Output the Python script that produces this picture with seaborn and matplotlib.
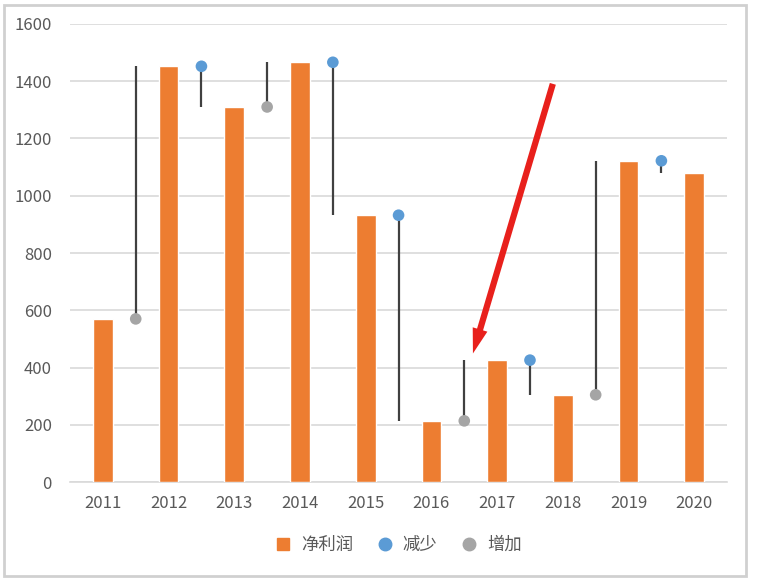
import numpy as np
import pandas as pd
import matplotlib.pyplot as plt
import seaborn as sns
from matplotlib.patches import Rectangle
from matplotlib.lines import Line2D

sns.set_style("white")
plt.rcParams['font.family'] = ['Noto Sans CJK SC', 'DejaVu Sans']

years = ["2011", "2012", "2013", "2014", "2015", "2016", "2017", "2018", "2019", "2020"]
profit = [570, 1452, 1310, 1466, 932, 214, 426, 305, 1122, 1080]

orange = "#ED7D31"
blue = "#5B9BD5"
grey = "#A5A5A5"

df = pd.DataFrame({"year": years, "profit": profit})

fig = plt.figure(figsize=(7.57, 5.83), dpi=100)
ax = fig.add_axes([0.0925, 0.173, 0.868, 0.786])

sns.barplot(data=df, x="year", y="profit", color=orange, width=0.3,
            saturation=1, ax=ax, zorder=3)

# 变化连线：从上一年到下一年
for i in range(len(profit) - 1):
    a, b = profit[i], profit[i + 1]
    ax.vlines(i + 0.5, min(a, b), max(a, b), color="#404040", lw=1.6, zorder=4)
    c = blue if b < a else grey
    ax.scatter(i + 0.5, a, s=70, color=c, zorder=5, edgecolor="none")

ax.set_ylim(0, 1600)
ax.set_xlim(-0.5, 9.5)
ax.set_yticks(range(0, 1601, 200))
ax.yaxis.grid(True, color="#D9D9D9", lw=1.2)
ax.set_axisbelow(True)
for s in ["left", "right", "top"]:
    ax.spines[s].set_visible(False)
ax.spines["bottom"].set_color("#D9D9D9")
ax.spines["bottom"].set_linewidth(1.2)
ax.set_xlabel("")
ax.set_ylabel("")
ax.tick_params(axis="both", length=0, labelsize=12, colors="#595959", pad=9)
ax.tick_params(axis="y", pad=13)

# 红色箭头
ax.annotate("", xy=(5.62, 440), xytext=(6.86, 1400),
            arrowprops=dict(arrowstyle="simple,head_width=1.1,head_length=1.8,tail_width=0.45",
                            color="#E8201C", lw=0), zorder=6)

handles = [
    Line2D([], [], marker="s", ls="", color=orange, markersize=8),
    Line2D([], [], marker="o", ls="", color=blue, markersize=9),
    Line2D([], [], marker="o", ls="", color=grey, markersize=9),
]
leg = fig.legend(handles, ["净利润", "减少", "增加"], loc="center",
                 bbox_to_anchor=(0.52, 0.065), ncol=3, frameon=False,
                 fontsize=12.5, handletextpad=0.05, columnspacing=0.8)
for t in leg.get_texts():
    t.set_color("#595959")

fig.patches.append(Rectangle((0.005, 0.012), 0.98, 0.98, transform=fig.transFigure,
                             fill=False, edgecolor="#D0D0D0", lw=2))

fig.savefig("out.png", dpi=100)
